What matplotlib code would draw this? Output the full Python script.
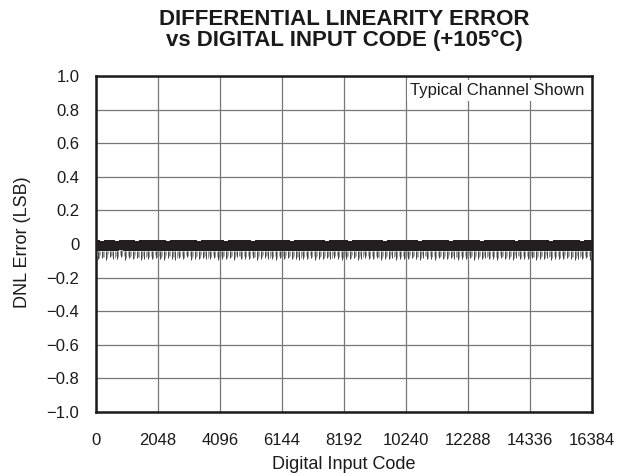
import matplotlib
matplotlib.use("Agg")
import matplotlib.pyplot as plt
import numpy as np

plt.rcParams['font.family'] = ['Liberation Sans', 'DejaVu Sans']

# ---- data ----
title = "DIFFERENTIAL LINEARITY ERROR\nvs DIGITAL INPUT CODE (+105\u00b0C)"
x_label = "Digital Input Code"
y_label = "DNL Error (LSB)"
x_ticks = [0, 2048, 4096, 6144, 8192, 10240, 12288, 14336, 16384]
y_ticks = [1.0, 0.8, 0.6, 0.4, 0.2, 0.0, -0.2, -0.4, -0.6, -0.8, -1.0]
y_tick_labels = ["1.0", "0.8", "0.6", "0.4", "0.2", "0", "\u22120.2", "\u22120.4",
                 "\u22120.6", "\u22120.8", "\u22121.0"]
note = "Typical Channel Shown"

# segment start codes (128 segments of 128 codes)
seg_codes = list(range(0, 16384, 128))
# upper envelope of DNL per segment
dnl_max = [0.022, 0.020, 0.023, 0.021, 0.022, 0.020, 0.024, 0.021,
           0.022, 0.021, 0.020, 0.023, 0.022, 0.021, 0.024, 0.022,
           0.021, 0.023, 0.020, 0.022, 0.021, 0.024, 0.022, 0.021,
           0.023, 0.022, 0.020, 0.021, 0.023, 0.022, 0.021, 0.024,
           0.022, 0.020, 0.023, 0.021, 0.022, 0.024, 0.021, 0.022,
           0.020, 0.023, 0.022, 0.021, 0.024, 0.022, 0.021, 0.023,
           0.022, 0.021, 0.020, 0.023, 0.022, 0.024, 0.021, 0.022,
           0.023, 0.021, 0.022, 0.020, 0.024, 0.022, 0.021, 0.023,
           0.022, 0.020, 0.023, 0.021, 0.022, 0.024, 0.021, 0.022,
           0.023, 0.021, 0.020, 0.022, 0.024, 0.021, 0.023, 0.022,
           0.021, 0.022, 0.023, 0.020, 0.022, 0.024, 0.021, 0.022,
           0.023, 0.021, 0.022, 0.020, 0.024, 0.022, 0.021, 0.023,
           0.022, 0.021, 0.023, 0.020, 0.022, 0.024, 0.021, 0.022,
           0.023, 0.021, 0.022, 0.024, 0.020, 0.022, 0.021, 0.023,
           0.022, 0.024, 0.021, 0.022, 0.023, 0.020, 0.022, 0.021,
           0.024, 0.022, 0.021, 0.023, 0.022, 0.020, 0.023, 0.022]
# bulk (dense) lower level per segment
dnl_core = [-0.040, -0.042, -0.039, -0.041, -0.043, -0.040, -0.038, -0.041,
            -0.042, -0.040, -0.044, -0.041, -0.039, -0.042, -0.040, -0.043,
            -0.041, -0.039, -0.042, -0.040, -0.041, -0.043, -0.040, -0.039,
            -0.042, -0.041, -0.040, -0.043, -0.039, -0.041, -0.042, -0.040,
            -0.041, -0.043, -0.040, -0.039, -0.042, -0.041, -0.040, -0.043,
            -0.039, -0.041, -0.042, -0.040, -0.041, -0.043, -0.040, -0.042,
            -0.041, -0.039, -0.042, -0.040, -0.043, -0.041, -0.040, -0.042,
            -0.039, -0.041, -0.043, -0.040, -0.042, -0.041, -0.039, -0.040,
            -0.042, -0.041, -0.040, -0.043, -0.039, -0.041, -0.042, -0.040,
            -0.041, -0.043, -0.040, -0.042, -0.039, -0.041, -0.040, -0.043,
            -0.042, -0.040, -0.041, -0.039, -0.043, -0.040, -0.042, -0.041,
            -0.040, -0.042, -0.039, -0.041, -0.043, -0.040, -0.042, -0.041,
            -0.041, -0.043, -0.040, -0.042, -0.039, -0.041, -0.040, -0.043,
            -0.042, -0.040, -0.041, -0.039, -0.043, -0.040, -0.042, -0.041,
            -0.040, -0.042, -0.039, -0.041, -0.043, -0.040, -0.042, -0.041,
            -0.039, -0.042, -0.040, -0.041, -0.043, -0.040, -0.042, -0.041]
# deepest negative spike per segment
dnl_min = [-0.092, -0.085, -0.094, -0.078, -0.090, -0.088, -0.080, -0.093,
           -0.086, -0.091, -0.083, -0.095, -0.089, -0.087, -0.092, -0.084,
           -0.090, -0.093, -0.082, -0.088, -0.094, -0.086, -0.091, -0.079,
           -0.093, -0.087, -0.090, -0.085, -0.092, -0.089, -0.083, -0.094,
           -0.088, -0.091, -0.086, -0.093, -0.080, -0.090, -0.087, -0.092,
           -0.085, -0.094, -0.089, -0.082, -0.091, -0.088, -0.093, -0.086,
           -0.090, -0.084, -0.092, -0.089, -0.095, -0.087, -0.091, -0.083,
           -0.093, -0.088, -0.090, -0.086, -0.092, -0.081, -0.089, -0.094,
           -0.087, -0.091, -0.085, -0.093, -0.089, -0.082, -0.090, -0.092,
           -0.086, -0.094, -0.088, -0.091, -0.084, -0.093, -0.087, -0.090,
           -0.092, -0.085, -0.089, -0.094, -0.081, -0.091, -0.088, -0.093,
           -0.086, -0.090, -0.092, -0.084, -0.089, -0.095, -0.087, -0.091,
           -0.083, -0.093, -0.088, -0.090, -0.086, -0.092, -0.089, -0.094,
           -0.085, -0.091, -0.087, -0.093, -0.082, -0.090, -0.088, -0.092,
           -0.086, -0.094, -0.089, -0.091, -0.084, -0.093, -0.087, -0.090,
           -0.092, -0.085, -0.089, -0.094, -0.088, -0.091, -0.086, -0.093]

# ---- figure ----
fig = plt.figure(figsize=(6.26, 4.76), dpi=100)
ax = fig.add_axes([96/626, 1-412/476, (592-96)/626, (412-76)/476])

ax.set_xlim(0, 16384)
ax.set_ylim(-1.0, 1.0)
ax.set_xticks(x_ticks)
ax.set_xticklabels([str(v) for v in x_ticks])
ax.set_yticks(y_ticks)
ax.set_yticklabels(y_tick_labels)
ax.tick_params(length=0, labelsize=12, colors='#1a1a1a')
ax.tick_params(axis='y', pad=12)
ax.tick_params(axis='x', pad=15)
ax.grid(True, color='#777777', linewidth=0.9)
ax.set_axisbelow(True)
for s in ax.spines.values():
    s.set_linewidth(1.8)
    s.set_color('#1a1a1a')

seg = np.array(seg_codes, dtype=float)
edges = np.append(seg, 16384)
top = np.append(dnl_max, dnl_max[-1])
core = np.append(dnl_core, dnl_core[-1])
ax.fill_between(edges, core, top, step='post', color='#231f20', linewidth=0, zorder=3)
# spikes
centers = seg + 64
ax.vlines(centers, dnl_min, dnl_core, colors='#444444', linewidth=0.7, zorder=3)
ax.vlines(seg + 20, np.array(dnl_min) * 0.8, dnl_core, colors='#888888', linewidth=0.5, zorder=3)
ax.vlines(seg + 100, np.array(dnl_min) * 0.9, dnl_core, colors='#666666', linewidth=0.5, zorder=3)

ax.set_xlabel(x_label, fontsize=13, color='#1a1a1a', labelpad=6)
ax.set_ylabel(y_label, fontsize=13, color='#1a1a1a')
ax.yaxis.set_label_coords(-0.132, 0.505)
ax.text(0.985, 0.957, note, transform=ax.transAxes, ha='right', va='center',
        fontsize=12, color='#1a1a1a', zorder=5,
        bbox=dict(facecolor='white', edgecolor='none', pad=2))
fig.text((96+592)/2/626, 1-30/476, title, ha='center', va='center',
         fontsize=16, fontweight='bold', color='#1a1a1a', linespacing=1.0)

fig.savefig("out.png", dpi=100)
